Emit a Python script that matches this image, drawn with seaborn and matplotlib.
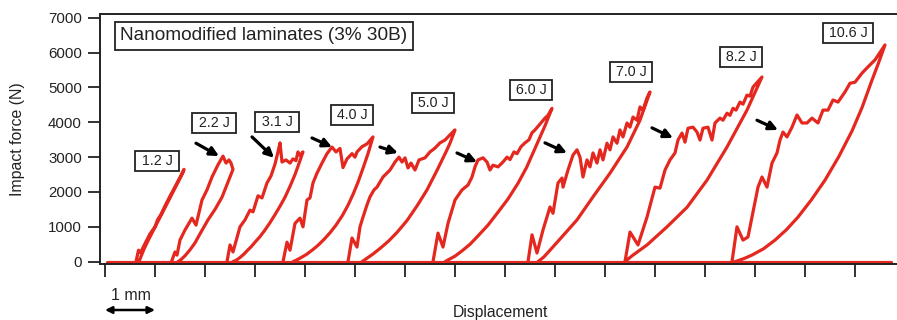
import numpy as np
import pandas as pd
import matplotlib
matplotlib.use("Agg")
import matplotlib.pyplot as plt
import matplotlib.transforms as mtransforms
import seaborn as sns

# ---------------- data (displacement in mm, force in N) ----------------
energies = ["1.2 J", "2.2 J", "3.1 J", "4.0 J", "5.0 J", "6.0 J", "7.0 J", "8.2 J", "10.6 J"]
title_text = "Nanomodified laminates (3% 30B)"
y_ticks = [0, 1000, 2000, 3000, 4000, 5000, 6000, 7000]
x_ticks = list(range(0, 16))

baseline_x = [0.04, 15.72]
baseline_f = [0, 0]

load_x_1 = [0.62, 0.67, 0.71, 0.80, 0.90, 1.00, 1.05, 1.12, 1.20, 1.30, 1.40, 1.50, 1.58]
load_f_1 = [0, 330, 260, 520, 800, 1000, 1200, 1360, 1600, 1880, 2150, 2420, 2650]
unload_x_1 = [1.56, 1.46, 1.36, 1.26, 1.16, 1.06, 0.96, 0.86, 0.78, 0.72, 0.68]
unload_f_1 = [2560, 2280, 2000, 1720, 1440, 1160, 880, 600, 360, 150, 0]

load_x_2 = [1.33, 1.40, 1.44, 1.50, 1.60, 1.74, 1.82, 1.94, 2.04, 2.14, 2.26, 2.36, 2.42, 2.48, 2.52, 2.56]
load_f_2 = [0, 280, 190, 620, 910, 1250, 1050, 1770, 2060, 2430, 2780, 3030, 2830, 2920, 2830, 2650]
unload_x_2 = [2.45, 2.34, 2.20, 2.06, 1.92, 1.80, 1.70, 1.60, 1.52, 1.46]
unload_f_2 = [2250, 1850, 1500, 1200, 850, 540, 340, 170, 60, 0]

load_x_3 = [2.44, 2.50, 2.56, 2.70, 2.80, 2.90, 2.96, 3.06, 3.14, 3.24, 3.32, 3.40, 3.46, 3.50,
            3.54, 3.62, 3.70, 3.76, 3.82, 3.86, 3.90, 3.96]
load_f_3 = [0, 480, 280, 1000, 1200, 1480, 1430, 1890, 1830, 2260, 2460, 2800, 3150, 3410,
            2860, 2920, 2830, 2950, 2900, 3150, 3050, 3150]
unload_x_3 = [3.88, 3.80, 3.70, 3.60, 3.50, 3.40, 3.30, 3.20, 3.10, 3.00, 2.93, 2.86, 2.78,
              2.70, 2.62, 2.56]
unload_f_3 = [2820, 2500, 2160, 1850, 1590, 1350, 1120, 910, 720, 560, 440, 340, 220,
              120, 40, 0]

load_x_4 = [3.56, 3.64, 3.70, 3.80, 3.90, 3.96, 4.04, 4.10, 4.16, 4.24, 4.34, 4.44, 4.54, 4.62,
            4.70, 4.76, 4.84, 4.94, 5.00, 5.04, 5.14, 5.24, 5.36]
load_f_4 = [0, 560, 330, 1100, 1250, 1000, 1770, 1830, 2260, 2540, 2830, 3100, 3290, 3150,
            3250, 2700, 2950, 3100, 3000, 3150, 3300, 3380, 3580]
unload_x_4 = [5.26, 5.16, 5.06, 4.96, 4.86, 4.75, 4.62, 4.50, 4.38, 4.26, 4.16, 4.03, 3.90,
              3.82, 3.76]
unload_f_4 = [3100, 2680, 2280, 1930, 1620, 1330, 1050, 830, 640, 470, 350, 210, 100,
              40, 0]

load_x_5 = [4.86, 4.94, 5.04, 5.10, 5.16, 5.24, 5.30, 5.38, 5.44, 5.56, 5.70, 5.80, 5.88, 5.94,
            6.00, 6.06, 6.12, 6.20, 6.28, 6.40, 6.50, 6.60, 6.70, 6.80, 6.90, 7.00]
load_f_5 = [0, 680, 420, 1000, 1280, 1630, 1860, 2060, 2140, 2430, 2630, 2860, 3000, 2860,
            2980, 2690, 2830, 2630, 2920, 2980, 3150, 3260, 3410, 3490, 3640, 3780]
unload_x_5 = [6.90, 6.82, 6.64, 6.44, 6.24, 6.04, 5.84, 5.67, 5.50, 5.36, 5.24, 5.14]
unload_f_5 = [3400, 3150, 2620, 2060, 1600, 1180, 840, 590, 380, 220, 100, 0]

load_x_6 = [6.56, 6.66, 6.76, 6.86, 7.00, 7.14, 7.26, 7.34, 7.40, 7.46, 7.56, 7.64, 7.70, 7.76,
            7.86, 7.96, 8.04, 8.10, 8.18, 8.24, 8.32, 8.40, 8.48, 8.54, 8.60, 8.70, 8.80, 8.86, 8.94]
load_f_6 = [0, 820, 420, 1100, 1770, 2060, 2200, 2430, 2720, 2920, 2980, 2860, 2630, 2770,
            2720, 2860, 3000, 2930, 3150, 3100, 3300, 3410, 3500, 3700, 3780, 3950, 4120, 4200, 4400]
unload_x_6 = [8.80, 8.60, 8.43, 8.26, 8.06, 7.86, 7.66, 7.46, 7.30, 7.14, 7.00, 6.86, 6.80]
unload_f_6 = [3900, 3250, 2700, 2250, 1800, 1420, 1050, 740, 500, 310, 160, 50, 0]

load_x_7 = [8.46, 8.54, 8.64, 8.76, 8.90, 8.96, 9.06, 9.14, 9.16, 9.26, 9.36, 9.44, 9.50, 9.56,
            9.64, 9.70, 9.76, 9.84, 9.90, 9.96, 10.04, 10.10, 10.16, 10.24, 10.30, 10.36, 10.44,
            10.50, 10.56, 10.64, 10.70, 10.76, 10.84, 10.90]
load_f_7 = [0, 770, 250, 910, 1570, 1390, 2260, 2400, 2140, 2630, 3060, 3210, 3000, 2430,
            2920, 2720, 3120, 2830, 3210, 2920, 3400, 3210, 3580, 3400, 3780, 3580, 3980,
            3860, 4150, 4060, 4440, 4350, 4700, 4870]
unload_x_7 = [10.70, 10.44, 10.10, 9.76, 9.44, 9.10, 8.90, 8.78, 8.66]
unload_f_7 = [4060, 3290, 2540, 1860, 1200, 650, 330, 140, 0]

load_x_8 = [10.40, 10.50, 10.66, 10.84, 11.00, 11.10, 11.20, 11.30, 11.40, 11.46, 11.54, 11.60,
            11.66, 11.76, 11.84, 11.90, 11.96, 12.06, 12.14, 12.20, 12.30, 12.36, 12.44, 12.50,
            12.56, 12.62, 12.70, 12.76, 12.84, 12.90, 12.96, 13.14]
load_f_8 = [0, 850, 480, 1280, 2140, 2110, 2630, 2920, 3120, 3490, 3690, 3430,
            3830, 3860, 3720, 3490, 3830, 3860, 3490, 3980, 4120, 4060, 4260, 4200,
            4400, 4350, 4580, 4520, 4780, 4750, 5010, 5300]
unload_x_8 = [12.84, 12.44, 12.04, 11.64, 11.24, 10.84, 10.56, 10.44, 10.40]
unload_f_8 = [4350, 3290, 2340, 1560, 1000, 480, 190, 50, 0]

load_x_9 = [12.54, 12.64, 12.76, 12.86, 13.06, 13.14, 13.24, 13.34, 13.44, 13.50, 13.56, 13.64,
            13.74, 13.84, 13.94, 14.04, 14.14, 14.26, 14.36, 14.46, 14.56, 14.66, 14.80, 14.90,
            15.00, 15.14, 15.26, 15.40, 15.60]
load_f_9 = [0, 1000, 620, 710, 2140, 2430, 2140, 2830, 3120, 3490, 3720, 3580,
            3860, 4210, 3980, 3980, 4120, 3980, 4350, 4350, 4640, 4580, 4870, 5120,
            5150, 5410, 5590, 5790, 6220]
unload_x_9 = [15.47, 15.34, 15.14, 14.94, 14.67, 14.40, 14.13, 13.86, 13.63, 13.40, 13.17,
              12.94, 12.78, 12.66, 12.60]
unload_f_9 = [5700, 5210, 4420, 3750, 3000, 2340, 1780, 1280, 920, 620, 370,
              190, 90, 30, 0]

loops = [
    (load_x_1, load_f_1, unload_x_1, unload_f_1),
    (load_x_2, load_f_2, unload_x_2, unload_f_2),
    (load_x_3, load_f_3, unload_x_3, unload_f_3),
    (load_x_4, load_f_4, unload_x_4, unload_f_4),
    (load_x_5, load_f_5, unload_x_5, unload_f_5),
    (load_x_6, load_f_6, unload_x_6, unload_f_6),
    (load_x_7, load_f_7, unload_x_7, unload_f_7),
    (load_x_8, load_f_8, unload_x_8, unload_f_8),
    (load_x_9, load_f_9, unload_x_9, unload_f_9),
]

# ---------------- layout (annotation placement) ----------------
label_pos = [(1.04, 2890), (2.18, 3980), (3.44, 4010), (4.94, 4210), (6.56, 4550),
             (8.52, 4930), (10.52, 5440), (12.72, 5870), (14.86, 6560)]
arrow_tail = [(1.82, 3400), (2.94, 3580), (4.14, 3550), (5.50, 3290), (7.04, 3120),
              (8.80, 3410), (10.94, 3840), (13.04, 4060)]
arrow_tip = [(2.28, 3030), (3.38, 2980), (4.54, 3290), (5.86, 3120), (7.44, 2860),
             (9.24, 3120), (11.36, 3550), (13.46, 3780)]

# ---------------- plotting ----------------
sns.set_theme(style="ticks")
plt.rcParams['font.family'] = ['Liberation Sans', 'DejaVu Sans']

RED = '#e5281f'
INK = '#222222'

fig = plt.figure(figsize=(8.97, 3.2), dpi=100)
ax = fig.add_axes([100 / 897, 1 - 264 / 320, 1 - 100 / 897, (264 - 14) / 320])

base_df = pd.DataFrame({'x': baseline_x, 'f': baseline_f})
sns.lineplot(data=base_df, x='x', y='f', sort=False, estimator=None, color=RED, lw=2.3, ax=ax)

for lx, lf, ux, uf in loops:
    df = pd.DataFrame({'x': list(lx) + list(ux), 'f': list(lf) + list(uf)})
    sns.lineplot(data=df, x='x', y='f', sort=False, estimator=None, color=RED, lw=2.3, ax=ax)
for line in ax.lines:
    line.set_solid_joinstyle('round')
    line.set_solid_capstyle('round')

ax.set_xlim(-0.1, 15.84)
ax.set_ylim(-66, 7107)
ax.set_xticks(x_ticks)
ax.set_xticklabels([])
ax.set_yticks(y_ticks)
ax.tick_params(axis='both', direction='out', length=9, width=1.3, color=INK,
               labelsize=10.8, labelcolor=INK, pad=4)

for side in ['left', 'top', 'bottom']:
    ax.spines[side].set_linewidth(1.4)
    ax.spines[side].set_color(INK)
ax.spines['right'].set_visible(False)

ax.set_ylabel('Impact force (N)', fontsize=11.4, color=INK)
ax.yaxis.set_label_coords(-0.094, 0.5)
ax.set_xlabel('Displacement', fontsize=11.3, color=INK)
ax.xaxis.set_label_coords(0.503, -0.165)

# title box
ax.text(3.18, 6480, title_text, ha='center', va='center', fontsize=13.7, color=INK,
        bbox=dict(boxstyle='square,pad=0.3', fc='white', ec=INK, lw=1.3))

# energy labels
for (lx, ly), txt in zip(label_pos, energies):
    ax.text(lx, ly, '\u2009' + txt + '\u2009', ha='center', va='center', fontsize=10.3,
            color=INK, bbox=dict(boxstyle='square,pad=0.22', fc='white', ec=INK, lw=1.3))

# arrows
for tail, tip in zip(arrow_tail, arrow_tip):
    ax.annotate('', xy=tip, xytext=tail,
                arrowprops=dict(arrowstyle='-|>', color='black', lw=2.3,
                                mutation_scale=13, shrinkA=0, shrinkB=0))

# scale bar (1 mm)
trans = mtransforms.blended_transform_factory(ax.transData, ax.transAxes)
ax.annotate('', xy=(0, -0.184), xytext=(1, -0.184), xycoords=trans, textcoords=trans,
            arrowprops=dict(arrowstyle='<|-|>', color='black', lw=1.8,
                            mutation_scale=10, shrinkA=0, shrinkB=0),
            annotation_clip=False)
ax.text(0.52, -0.128, '1 mm', transform=trans, ha='center', va='center',
        fontsize=11.5, color=INK, clip_on=False)

fig.savefig('out.png', dpi=100)
